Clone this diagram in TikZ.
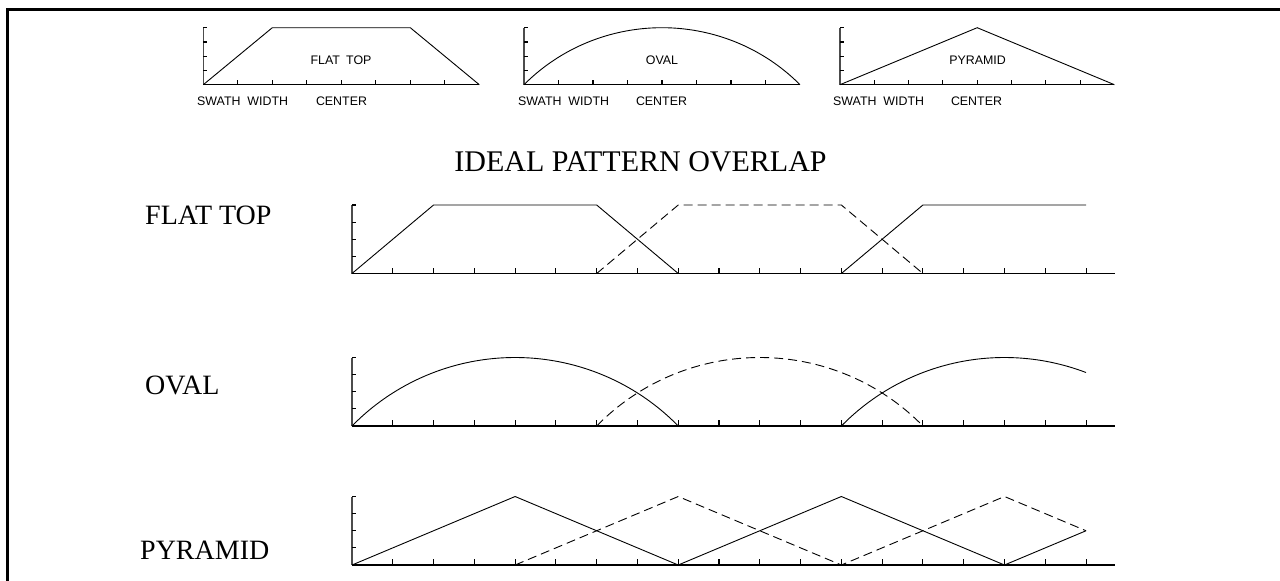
\documentclass[tikz,border=0pt]{standalone}
\usepackage{fontspec}
\setmainfont{Liberation Serif}
\newfontfamily\cadfont{Liberation Sans}
\newcommand\mybigaxis{%
  \draw[yax] (0,1) -- (0,0);
  \draw[xax] (0,0) -- (18.71,0);
  \foreach \h in {0.25,0.5,0.75,1} \draw[tick] (0,\h) -- (0.098,\h);
  \foreach \k in {1,...,18} \draw[tick] (\k,0) -- (\k,0.0876);
}
\newcommand\mysmallaxis{%
  \draw[yax] (0,1) -- (0,0);
  \draw[xax] (0,0) -- (8,0);
  \foreach \h in {0.25,0.5,0.75,1} \draw[tick] (0,\h) -- (0.116,\h);
  \foreach \k in {1,...,7} \draw[tick] (\k,0) -- (\k,0.088);
}
\begin{document}
\begin{tikzpicture}[x=1pt,y=-1pt,
  yax/.style={line width=1.6pt, black!70},
  xax/.style={line width=1.3pt, black},
  tick/.style={line width=1.1pt, black},
  curve/.style={line width=0.9pt, black},
  dashcurve/.style={curve, dash pattern=on 9pt off 5pt},
  bigtext/.style={font=\fontsize{28}{30}\selectfont, inner sep=0pt},
  titletext/.style={font=\fontsize{30}{32}\selectfont, inner sep=0pt},
  smalltext/.style={font=\cadfont\fontsize{12.4}{14}\selectfont, inner sep=0pt}]
\useasboundingbox (0,0) rectangle (1280,581);
\draw[line width=3pt] (7.2,581) -- (7.2,9.5) -- (1280,9.5);

% ---- small reference diagrams ----
\begin{scope}[shift={(203.3,84.7)}, x=34.5pt, y=57pt]
  \mysmallaxis
  \draw[curve] (0,0) -- (2,1) -- (6,1) -- (8,0);
\end{scope}
\node[smalltext] (t1) at (341,60) {FLAT\hspace{0.5em}TOP};
\node[smalltext, anchor=west] (s1) at (197,101.5) {SWATH\hspace{0.55em}WIDTH};
\node[smalltext] (c1) at (341.5,101.5) {CENTER};

\begin{scope}[shift={(524,84.7)}, x=34.5pt, y=57pt]
  \mysmallaxis
  \draw[curve] plot[domain=0:8, samples=80, smooth] (\x,{3.2942*sqrt(max(0,1-((\x-4)*0.17941)^2))-2.2942});
\end{scope}
\node[smalltext] (t2) at (662,60) {OVAL};
\node[smalltext, anchor=west] (s2) at (518,101.5) {SWATH\hspace{0.55em}WIDTH};
\node[smalltext] (c2) at (661.5,101.5) {CENTER};

\begin{scope}[shift={(840,84.7)}, x=34.3pt, y=57pt]
  \mysmallaxis
  \draw[curve] (0,0) -- (4,1) -- (8,0);
\end{scope}
\node[smalltext] (t3) at (977.5,60) {PYRAMID};
\node[smalltext, anchor=west] (s3) at (833,101) {SWATH\hspace{0.55em}WIDTH};
\node[smalltext] (c3) at (976.5,101) {CENTER};

% ---- title ----
\node[titletext] (title) at (640.5,162) {IDEAL PATTERN OVERLAP};

% ---- flat top row ----
\node[bigtext, anchor=west] (lflat) at (145,215) {FLAT TOP};
\begin{scope}[shift={(352,273.5)}, x=40.78pt, y=68.5pt]
  \mybigaxis
  \draw[curve] (0,0) -- (2,1) -- (6,1) -- (8,0);
  \draw[dashcurve] (6,0) -- (8,1) -- (12,1) -- (14,0);
  \draw[curve] (12,0) -- (14,1) -- (18,1);
\end{scope}

% ---- oval row ----
\node[bigtext, anchor=west] (loval) at (145,385) {OVAL};
\begin{scope}[shift={(352,426)}, x=40.78pt, y=68.5pt]
  \mybigaxis
  \draw[curve] plot[domain=0:8, samples=80, smooth] (\x,{3.2942*sqrt(max(0,1-((\x-4)*0.17941)^2))-2.2942});
  \draw[dashcurve] plot[domain=6:14, samples=80, smooth] (\x,{3.2942*sqrt(max(0,1-((\x-10)*0.17941)^2))-2.2942});
  \draw[curve] plot[domain=12:18, samples=60, smooth] (\x,{3.2942*sqrt(max(0,1-((\x-16)*0.17941)^2))-2.2942});
\end{scope}

% ---- pyramid row ----
\node[bigtext, anchor=west] (lpyr) at (140,550) {PYRAMID};
\begin{scope}[shift={(352,565)}, x=40.78pt, y=68.5pt]
  \mybigaxis
  \draw[curve] (0,0) -- (4,1) -- (8,0) -- (12,1) -- (16,0) -- (18,0.5);
  \draw[dashcurve] (4,0) -- (8,1) -- (12,0) -- (16,1) -- (18,0.5);
\end{scope}
\end{tikzpicture}
\end{document}
